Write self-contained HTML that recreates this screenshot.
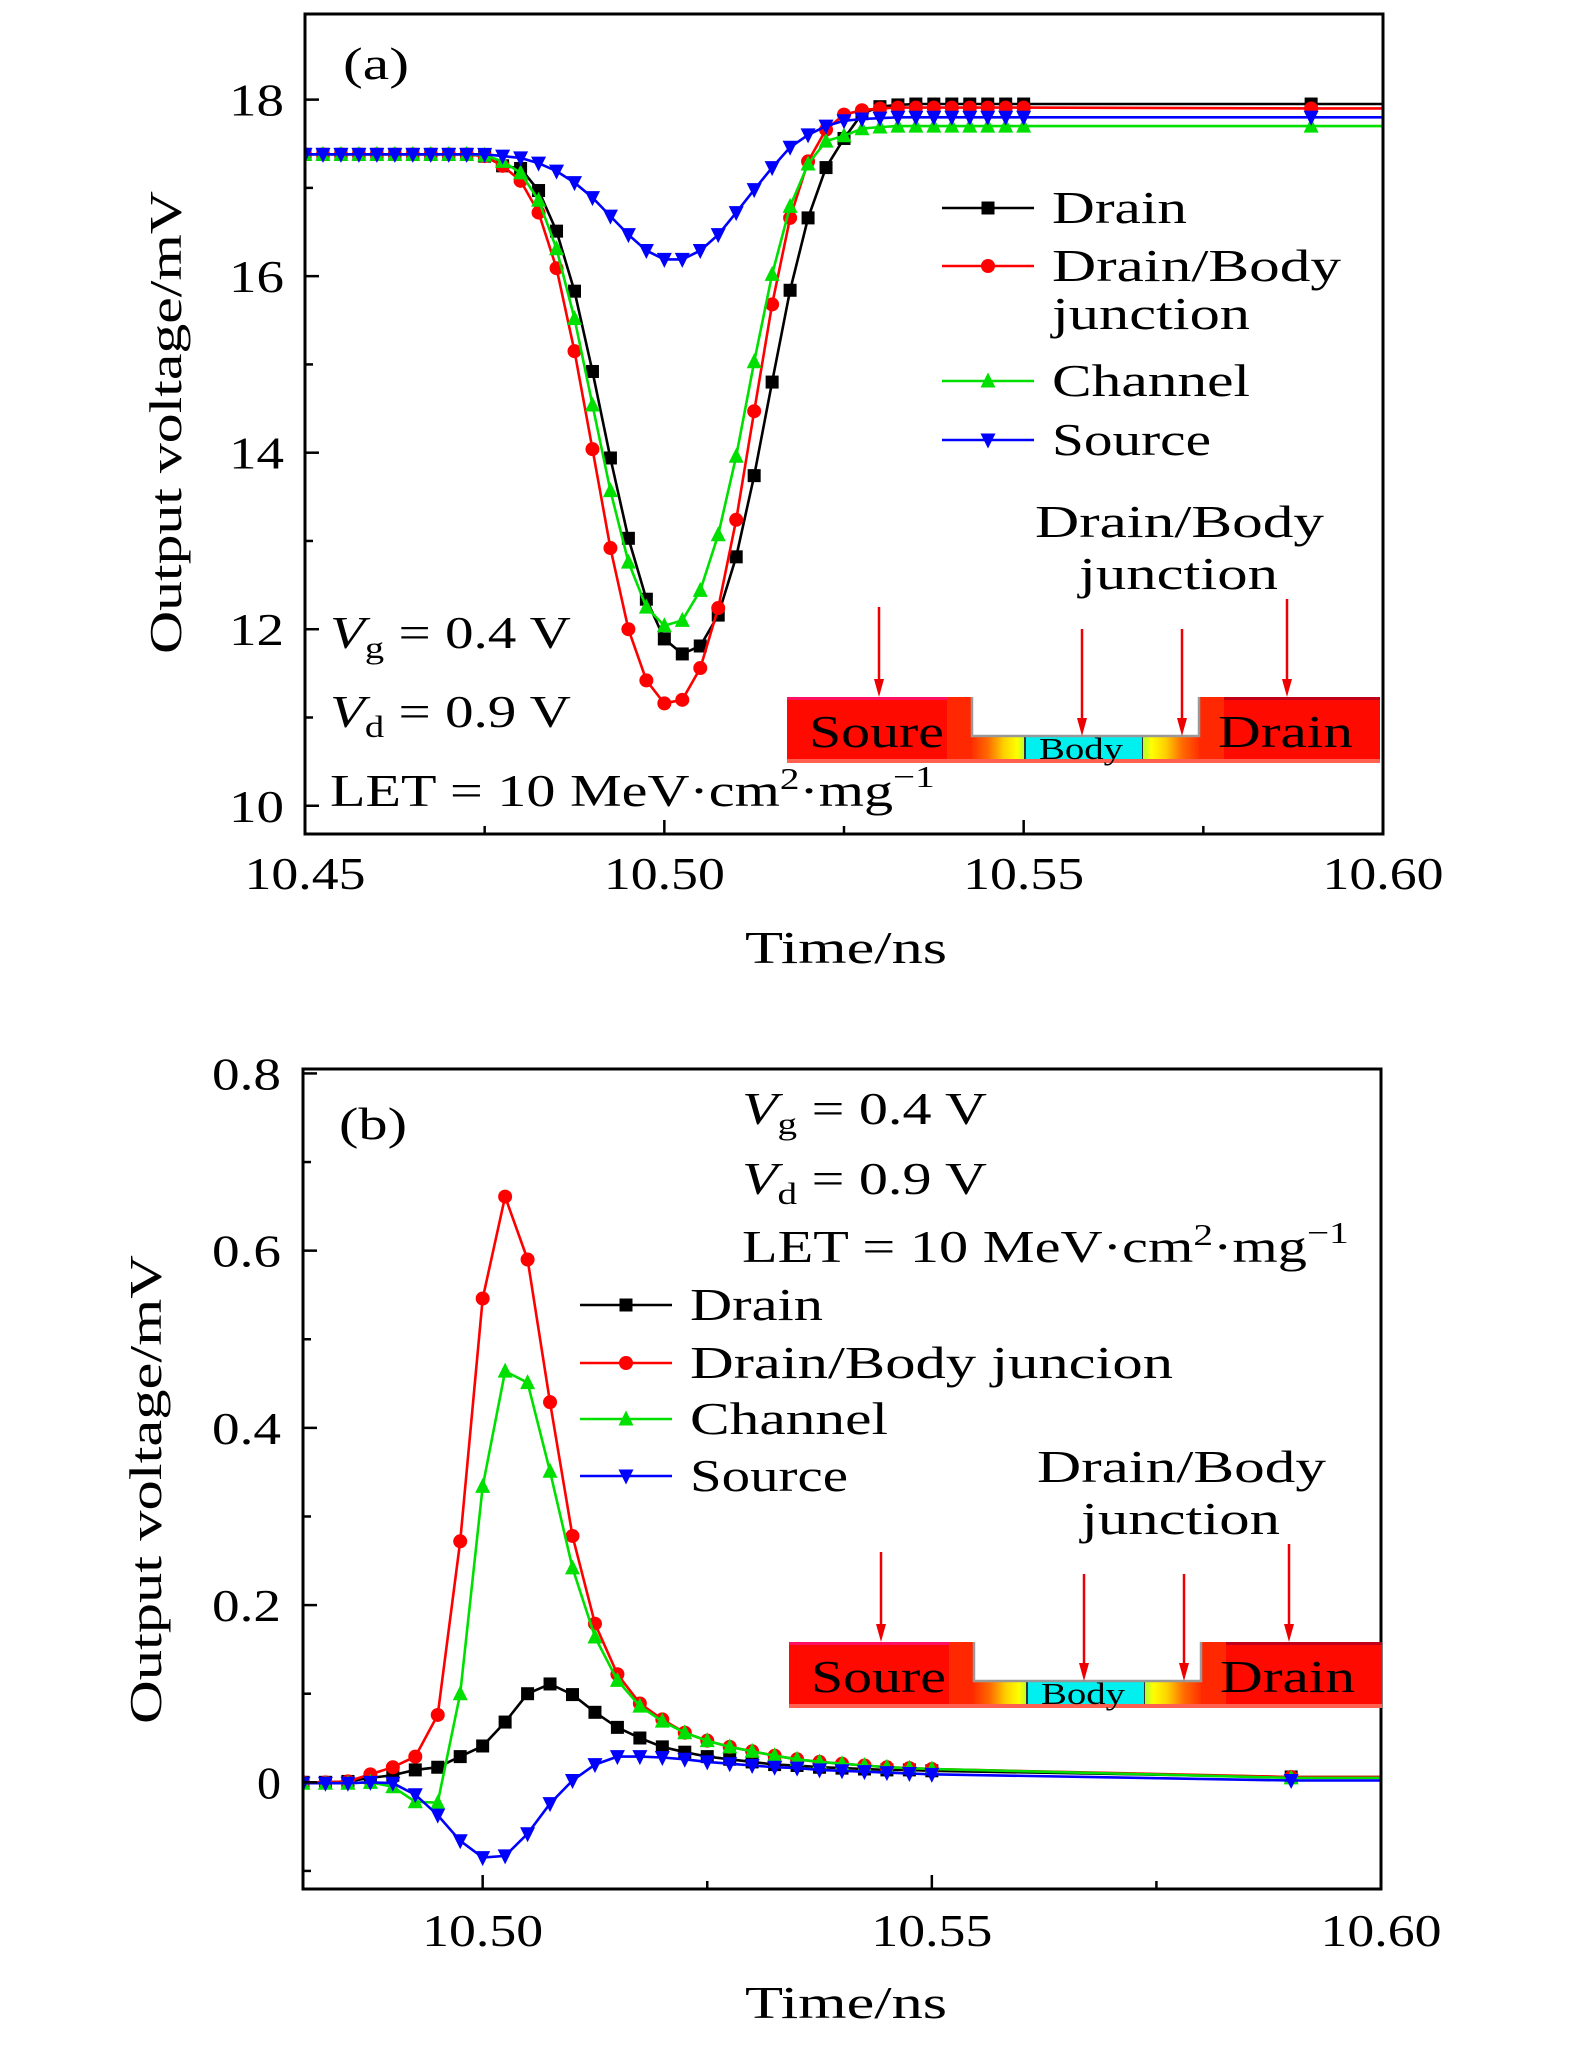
<!DOCTYPE html>
<html><head><meta charset="utf-8"><style>
html,body{margin:0;padding:0;background:#fff;}
svg{display:block;font-family:"Liberation Serif",serif;}
</style></head><body>
<svg id="fig" width="1575" height="2047" viewBox="0 0 1575 2047" xmlns="http://www.w3.org/2000/svg">
<defs>
<linearGradient id="gl" x1="0" x2="1" y1="0" y2="0">
<stop offset="0" stop-color="#ff3000"/><stop offset="0.3" stop-color="#ff6a00"/><stop offset="0.6" stop-color="#ffd000"/><stop offset="0.85" stop-color="#ffff00"/><stop offset="1" stop-color="#b0ff30"/></linearGradient>
<linearGradient id="gr" x1="1" x2="0" y1="0" y2="0">
<stop offset="0" stop-color="#ff3000"/><stop offset="0.3" stop-color="#ff6a00"/><stop offset="0.6" stop-color="#ffd000"/><stop offset="0.85" stop-color="#ffff00"/><stop offset="1" stop-color="#b0ff30"/></linearGradient>
</defs>
<g id="pa"></g>
<g id="pb"></g>
</svg>
<script>
// ---- Panel (a) data ----
const timesA = [];
for (let i = 0; i <= 40; i++) timesA.push(+(10.45 + 0.0025 * i).toFixed(4));
timesA.push(10.59);
const drainA = [17.38,17.38,17.38,17.38,17.38,17.38,17.38,17.38,17.38,17.38,17.36,17.25,17.22,16.97,16.51,15.83,14.92,13.94,13.03,12.34,11.89,11.72,11.81,12.16,12.82,13.74,14.80,15.84,16.66,17.23,17.56,17.84,17.92,17.94,17.95,17.95,17.95,17.95,17.95,17.95,17.95,17.95];
const junctionA = [17.38,17.38,17.38,17.38,17.38,17.38,17.38,17.38,17.38,17.38,17.36,17.25,17.08,16.72,16.09,15.15,14.04,12.92,12.00,11.42,11.16,11.20,11.56,12.24,13.24,14.47,15.68,16.66,17.30,17.66,17.83,17.88,17.90,17.91,17.91,17.91,17.91,17.91,17.91,17.91,17.91,17.90];
const channelA = [17.38,17.38,17.38,17.38,17.38,17.38,17.38,17.38,17.38,17.38,17.37,17.30,17.17,16.86,16.31,15.52,14.54,13.57,12.76,12.25,12.04,12.10,12.44,13.07,13.96,15.03,16.02,16.79,17.27,17.53,17.59,17.67,17.69,17.70,17.70,17.70,17.70,17.70,17.70,17.70,17.70,17.70];
const sourceA = [17.38,17.38,17.38,17.38,17.38,17.38,17.38,17.38,17.38,17.38,17.38,17.36,17.34,17.28,17.19,17.06,16.89,16.68,16.47,16.29,16.19,16.19,16.29,16.47,16.72,16.98,17.23,17.46,17.60,17.70,17.76,17.78,17.79,17.80,17.80,17.80,17.80,17.80,17.80,17.80,17.80,17.80];
const xTicksA = [10.45,10.50,10.55,10.60];
const xTickLabelsA = ["10.45","10.50","10.55","10.60"];
const yTicksA = [10,12,14,16,18];
const yTickLabelsA = ["10","12","14","16","18"];

// ---- Panel (b) data ----
const timesB = [];
for (let k = 0; k <= 28; k++) timesB.push(+(10.48 + 0.0025 * k).toFixed(4));
timesB.push(10.59);
const drainB = [0,0,0.001,0.005,0.008,0.014,0.017,0.029,0.041,0.068,0.100,0.111,0.099,0.079,0.062,0.050,0.040,0.034,0.029,0.026,0.023,0.020,0.019,0.017,0.016,0.015,0.014,0.014,0.013,0.006];
const junctionB = [0,0,0.001,0.009,0.017,0.029,0.076,0.272,0.546,0.661,0.590,0.429,0.278,0.179,0.122,0.089,0.071,0.056,0.047,0.040,0.035,0.030,0.026,0.023,0.021,0.019,0.017,0.016,0.015,0.006];
const channelB = [-0.001,-0.001,-0.001,0,-0.005,-0.022,-0.023,0.100,0.334,0.464,0.451,0.351,0.242,0.164,0.115,0.086,0.069,0.056,0.047,0.040,0.035,0.030,0.026,0.023,0.021,0.019,0.017,0.016,0.015,0.005];
const sourceB = [-0.001,-0.001,-0.001,0,-0.001,-0.014,-0.037,-0.066,-0.085,-0.083,-0.058,-0.024,0.002,0.020,0.029,0.029,0.028,0.026,0.023,0.021,0.019,0.017,0.016,0.014,0.013,0.012,0.011,0.010,0.009,0.002];
const xTicksB = [10.50,10.55,10.60];
const xTickLabelsB = ["10.50","10.55","10.60"];
const yTicksB = [0,0.2,0.4,0.6,0.8];
const yTickLabelsB = ["0","0.2","0.4","0.6","0.8"];

const NS = "http://www.w3.org/2000/svg";
function mk(parent, tag, attrs, text) {
  const e = document.createElementNS(NS, tag);
  for (const k in attrs) e.setAttribute(k, attrs[k]);
  if (text !== undefined) e.textContent = text;
  parent.appendChild(e);
  return e;
}
function marker(g, type, x, y, color) {
  let m;
  const s = 6.5;
  if (type === 'sq') m = mk(g, 'rect', {x: x - s, y: y - s, width: 2 * s, height: 2 * s, fill: color});
  else if (type === 'ci') m = mk(g, 'circle', {cx: x, cy: y, r: s + 0.5, fill: color});
  else if (type === 'up') m = mk(g, 'polygon', {points: `${x},${y - s - 2} ${x - s - 1},${y + s} ${x + s + 1},${y + s}`, fill: color});
  else m = mk(g, 'polygon', {points: `${x},${y + s + 2} ${x - s - 1},${y - s} ${x + s + 1},${y - s}`, fill: color});
  
  
}
const FS = 46;
function tl(w) { return {textLength: w, lengthAdjust: 'spacingAndGlyphs'}; }
function tickW(s) { return s.length === 1 ? 24 : (s.length === 2 ? 55 : (s.length === 3 ? 69 : 121)); }

function drawPanel(g, cfg) {
  const sx = v => cfg.x0 + (v - cfg.xmin) / (cfg.xmax - cfg.xmin) * (cfg.x1 - cfg.x0);
  const sy = v => cfg.y1 - (v - cfg.ymin) / (cfg.ymax - cfg.ymin) * (cfg.y1 - cfg.y0);
  const cid = 'clip' + cfg.id;
  const cp = mk(g, 'clipPath', {id: cid});
  mk(cp, 'rect', {x: cfg.x0, y: cfg.y0, width: cfg.x1 - cfg.x0, height: cfg.y1 - cfg.y0});
  cfg.series.forEach(s => {
    const sg = mk(g, 'g', {'clip-path': `url(#${cid})`});
    
    
    let d = '';
    s.vals.forEach((v, i) => { d += (i ? 'L' : 'M') + sx(cfg.times[i]).toFixed(1) + ',' + sy(v).toFixed(1); });
    const last = s.vals[s.vals.length - 1];
    d += 'L' + cfg.x1 + ',' + sy(last).toFixed(1);
    const p = mk(sg, 'path', {d: d, fill: 'none', stroke: s.color, 'stroke-width': 2.6});
    
    
    s.vals.forEach((v, i) => marker(sg, s.mk, sx(cfg.times[i]), sy(v), s.color));
  });
  const box = mk(g, 'rect', {x: cfg.x0, y: cfg.y0, width: cfg.x1 - cfg.x0, height: cfg.y1 - cfg.y0, fill: 'none', stroke: '#000', 'stroke-width': 3});
  
  
  const xg = mk(g, 'g', {});
  
  
  cfg.xTicks.forEach((t, i) => {
    const x = sx(t);
    mk(xg, 'line', {x1: x, x2: x, y1: cfg.y1, y2: cfg.y1 - 14, stroke: '#000', 'stroke-width': 2.5});
    const lab = cfg.xTickLabels[i];
    const e = mk(xg, 'text', Object.assign({x: x - tickW(lab) / 2, y: cfg.xLabelY, 'font-size': FS, fill: '#000'}, tl(tickW(lab))), lab);
    
    
  });
  cfg.xMinor.forEach(t => { const x = sx(t); mk(xg, 'line', {x1: x, x2: x, y1: cfg.y1, y2: cfg.y1 - 8, stroke: '#000', 'stroke-width': 2.5}); });
  const yg = mk(g, 'g', {});
  
  
  cfg.yTicks.forEach((t, i) => {
    const y = sy(t);
    mk(yg, 'line', {x1: cfg.x0, x2: cfg.x0 + 14, y1: y, y2: y, stroke: '#000', 'stroke-width': 2.5});
    const lab = cfg.yTickLabels[i];
    const e = mk(yg, 'text', Object.assign({x: cfg.yLabelX - tickW(lab), y: y + 16, 'font-size': FS, fill: '#000'}, tl(tickW(lab))), lab);
    
    
  });
  cfg.yMinor.forEach(t => { const y = sy(t); mk(yg, 'line', {x1: cfg.x0, x2: cfg.x0 + 8, y1: y, y2: y, stroke: '#000', 'stroke-width': 2.5}); });
}

function text(g, name, x, y, size, str, w, extra) {
  const a = Object.assign({x: x, y: y, 'font-size': size, fill: '#000'}, extra || {});
  if (w) Object.assign(a, tl(w));
  const t = mk(g, 'text', a, str);
  
  
  return t;
}
function fitGroup(t, x, w) {
  const bw = t.getBBox().width;
  if (bw > 0) t.setAttribute('transform', `translate(${x},0) scale(${w / bw},1) translate(${-x},0)`);
}
function richVar(g, name, x, y, sub, rest, w) {
  const t = mk(g, 'text', {x: x, y: y, 'font-size': FS, fill: '#000'});
  
  
  mk(t, 'tspan', {'font-style': 'italic'}, 'V');
  mk(t, 'tspan', {'font-size': 31, dy: 10}, sub);
  mk(t, 'tspan', {dy: -10}, rest);
  fitGroup(t, x, w);
}
function letText(g, x, y, w) {
  const t = mk(g, 'text', {x: x, y: y, 'font-size': FS, fill: '#000'});
  
  
  mk(t, 'tspan', {}, 'LET = 10 MeV·cm');
  mk(t, 'tspan', {'font-size': 31, dy: -17}, '2');
  mk(t, 'tspan', {dy: 17}, '·mg');
  mk(t, 'tspan', {'font-size': 31, dy: -19}, '−1');
  fitGroup(t, x, w);
}
function legend(g, x, entries) {
  const lg = mk(g, 'g', {});
  
  
  entries.forEach(e => {
    const eg = mk(lg, 'g', {});
    
    
    mk(eg, 'line', {x1: x, x2: x + 92, y1: e.y, y2: e.y, stroke: e.color, 'stroke-width': 2.6});
    marker(eg, e.mk, x + 46, e.y, e.color);
    e.lines.forEach((l, j) => text(eg, 'legend-label', x + 110, e.y + 15 + j * 48, FS, l[0], l[1]));
  });
}
function inset(g, ox, oy) {
  const ig = mk(g, 'g', {});
  
  
  mk(ig, 'rect', {x: ox, y: oy, width: 185, height: 66, fill: '#ff0a00'});
  mk(ig, 'rect', {x: ox, y: oy, width: 185, height: 3, fill: '#ff1060'});
  mk(ig, 'rect', {x: ox + 160, y: oy, width: 25, height: 66, fill: '#ff2800'});
  mk(ig, 'rect', {x: ox + 185, y: oy + 39, width: 53, height: 27, fill: 'url(#gl)'});
  mk(ig, 'rect', {x: ox + 238, y: oy + 39, width: 118, height: 27, fill: '#00f0f0'});
  mk(ig, 'line', {x1: ox + 238, x2: ox + 238, y1: oy + 39, y2: oy + 66, stroke: '#333', 'stroke-width': 2});
  mk(ig, 'line', {x1: ox + 356, x2: ox + 356, y1: oy + 39, y2: oy + 66, stroke: '#333', 'stroke-width': 2});
  mk(ig, 'rect', {x: ox + 356, y: oy + 39, width: 56, height: 27, fill: 'url(#gr)'});
  mk(ig, 'rect', {x: ox + 412, y: oy, width: 181, height: 66, fill: '#ff0a00'});
  mk(ig, 'rect', {x: ox + 412, y: oy, width: 181, height: 3, fill: '#c00018'});
  mk(ig, 'rect', {x: ox + 412, y: oy, width: 25, height: 66, fill: '#ff2800'});
  mk(ig, 'path', {d: `M${ox + 185},${oy}V${oy + 39}H${ox + 412}V${oy}`, fill: 'none', stroke: '#999', 'stroke-width': 2.5});
  mk(ig, 'rect', {x: ox, y: oy + 62, width: 593, height: 4, fill: '#ff6050'});
  text(ig, 'source-label', ox + 22, oy + 50, FS, 'Soure', 135);
  text(ig, 'drain-label', ox + 431, oy + 50, FS, 'Drain', 135);
  text(ig, 'body-label', ox + 252, oy + 62, 31, 'Body', 84);
  const arrows = [[92, -90, 0], [295, -68, 39], [395, -68, 39], [500, -98, 0]];
  arrows.forEach(a => {
    const ag = mk(ig, 'g', {});
    
    
    const x = ox + a[0], yb = oy + a[2];
    mk(ag, 'line', {x1: x, x2: x, y1: yb + a[1] - a[2], y2: yb - 14, stroke: '#ee0000', 'stroke-width': 2.5});
    mk(ag, 'polygon', {points: `${x - 5},${yb - 18} ${x + 5},${yb - 18} ${x},${yb}`, fill: '#ee0000'});
  });
  text(ig, 'junction-annotation', ox + 248, oy - 160, FS, 'Drain/Body', 289);
  text(ig, 'junction-annotation-2', ox + 292, oy - 108, FS, 'junction', 199);
}

// ---- Panel A ----
const pa = document.getElementById('pa');
drawPanel(pa, {
  id: 'a', x0: 305, x1: 1383, y0: 14, y1: 834, xmin: 10.45, xmax: 10.60, ymin: 9.68, ymax: 18.97,
  times: timesA, xTicks: xTicksA, xTickLabels: xTickLabelsA, yTicks: yTicksA, yTickLabels: yTickLabelsA,
  xMinor: [10.475, 10.525, 10.575], yMinor: [11, 13, 15, 17], xLabelY: 889, yLabelX: 284,
  series: [
    {name: 'drain-series', vals: drainA, color: '#000', mk: 'sq'},
    {name: 'junction-series', vals: junctionA, color: '#ff0000', mk: 'ci'},
    {name: 'channel-series', vals: channelA, color: '#00e000', mk: 'up'},
    {name: 'source-series', vals: sourceA, color: '#0000ff', mk: 'dn'}]
});
text(pa, 'panel-label-a', 343, 79, FS, '(a)', 66);
legend(pa, 942, [
  {y: 208, color: '#000', mk: 'sq', lines: [['Drain', 135]]},
  {y: 266, color: '#ff0000', mk: 'ci', lines: [['Drain/Body', 289], ['junction', 198]]},
  {y: 381, color: '#00e000', mk: 'up', lines: [['Channel', 198]]},
  {y: 440, color: '#0000ff', mk: 'dn', lines: [['Source', 159]]}]);
richVar(pa, 'vg-annotation', 330, 648, 'g', ' = 0.4 V', 241);
richVar(pa, 'vd-annotation', 330, 727, 'd', ' = 0.9 V', 241);
letText(pa, 330, 806, 605);
inset(pa, 787, 697);
text(pa, 'x-axis-title', 745, 963, FS, 'Time/ns', 202);
text(pa, 'y-axis-title', 0, 0, FS, 'Output voltage/mV', 463, {transform: 'translate(181,423) rotate(-90) translate(-231,0)'});

// ---- Panel B ----
const pb = document.getElementById('pb');
drawPanel(pb, {
  id: 'b', x0: 303, x1: 1381, y0: 1069, y1: 1889, xmin: 10.48, xmax: 10.60, ymin: -0.1204, ymax: 0.805,
  times: timesB, xTicks: xTicksB, xTickLabels: xTickLabelsB, yTicks: yTicksB, yTickLabels: yTickLabelsB,
  xMinor: [10.525, 10.575], yMinor: [-0.1, 0.1, 0.3, 0.5, 0.7], xLabelY: 1946, yLabelX: 281,
  series: [
    {name: 'drain-series', vals: drainB, color: '#000', mk: 'sq'},
    {name: 'junction-series', vals: junctionB, color: '#ff0000', mk: 'ci'},
    {name: 'channel-series', vals: channelB, color: '#00e000', mk: 'up'},
    {name: 'source-series', vals: sourceB, color: '#0000ff', mk: 'dn'}]
});
text(pb, 'panel-label-b', 339, 1139, FS, '(b)', 68);
legend(pb, 580, [
  {y: 1305, color: '#000', mk: 'sq', lines: [['Drain', 133]]},
  {y: 1363, color: '#ff0000', mk: 'ci', lines: [['Drain/Body juncion', 483]]},
  {y: 1419, color: '#00e000', mk: 'up', lines: [['Channel', 198]]},
  {y: 1476, color: '#0000ff', mk: 'dn', lines: [['Source', 158]]}]);
richVar(pb, 'vg-annotation', 742, 1124, 'g', ' = 0.4 V', 245);
richVar(pb, 'vd-annotation', 742, 1194, 'd', ' = 0.9 V', 245);
letText(pb, 742, 1262, 607);
inset(pb, 789, 1642);
text(pb, 'x-axis-title', 745, 2018, FS, 'Time/ns', 202);
text(pb, 'y-axis-title', 0, 0, FS, 'Output voltage/mV', 469, {transform: 'translate(161,1490) rotate(-90) translate(-234,0)'});
</script>
</body></html>
